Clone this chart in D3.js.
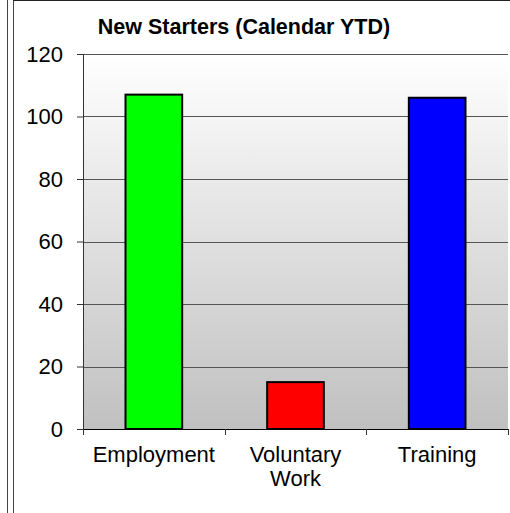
<!DOCTYPE html>
<html>
<head>
<meta charset="utf-8">
<script src="https://cdn.jsdelivr.net/npm/d3@7"></script>
<style>
  body { margin: 0; background: #fff; }
  text { font-family: "Liberation Sans", Arial, sans-serif; fill: #000; }
</style>
</head>
<body>
<div id="chart"></div>
<script>
// chart data
var categories = ["Employment", "Voluntary Work", "Training"];
var categoryLines = [["Employment"], ["Voluntary", "Work"], ["Training"]];
var values = [107, 15, 106];
var barColors = ["#00ff00", "#ff0000", "#0000ff"];
var yTicks = [0, 20, 40, 60, 80, 100, 120];
var chartTitle = "New Starters (Calendar YTD)";

var svgWidth = 510;
var svgHeight = 513;

var chartMargin = {
    top: 54,
    right: 2,
    left: 83,
    bottom: 84};

var chartWidth = svgWidth - chartMargin.left - chartMargin.right;
var chartHeight = svgHeight - chartMargin.top - chartMargin.bottom;

var svg = d3.select("#chart")
    .append("svg")
    .attr("width", svgWidth)
    .attr("height", svgHeight);

// outer frame lines
svg.append("line").attr("x1", 7.5).attr("x2", 7.5).attr("y1", 0).attr("y2", svgHeight)
    .attr("stroke", "#444").attr("stroke-width", 1);
svg.append("line").attr("x1", 13.5).attr("x2", 13.5).attr("y1", 0).attr("y2", svgHeight)
    .attr("stroke", "#444").attr("stroke-width", 1);
svg.append("line").attr("x1", 13).attr("x2", svgWidth).attr("y1", 0.5).attr("y2", 0.5)
    .attr("stroke", "#222").attr("stroke-width", 1);

var defs = svg.append("defs");
var grad = defs.append("linearGradient")
    .attr("id", "bg")
    .attr("x1", 0).attr("y1", 0).attr("x2", 0).attr("y2", 1);
grad.append("stop").attr("offset", "0%").attr("stop-color", "#ffffff");
grad.append("stop").attr("offset", "100%").attr("stop-color", "#c0c0c0");

var chartGroup = svg.append("g")
    .attr("transform", `translate(${chartMargin.left}, ${chartMargin.top})`);

var xScale = d3.scaleBand()
    .domain(categories)
    .range([0, chartWidth])
    .paddingInner(0.6)
    .paddingOuter(0.3);

var xBoundary = d3.scaleLinear()
    .domain([0, categories.length])
    .range([0, chartWidth]);

var yScale = d3.scaleLinear()
    .domain([0, 120])
    .range([chartHeight, 0]);

// plot background
chartGroup.append("rect")
    .attr("x", 0)
    .attr("y", 0)
    .attr("width", chartWidth)
    .attr("height", chartHeight)
    .attr("fill", "url(#bg)");

// gridlines
chartGroup.selectAll(".grid")
    .data(yTicks.filter(d => d > 0))
    .enter()
    .append("line")
    .attr("class", "grid")
    .attr("x1", 0)
    .attr("x2", chartWidth)
    .attr("y1", d => Math.round(yScale(d)) + 0.5)
    .attr("y2", d => Math.round(yScale(d)) + 0.5)
    .attr("stroke", "#555")
    .attr("stroke-width", 1);

// bars
chartGroup.selectAll(".bar")
    .data(values)
    .enter()
    .append("rect")
    .attr("class", "bar")
    .attr("x", (d, i) => xScale(categories[i]))
    .attr("y", d => yScale(d))
    .attr("width", xScale.bandwidth())
    .attr("height", d => chartHeight - yScale(d))
    .attr("fill", (d, i) => barColors[i])
    .attr("stroke", "#000")
    .attr("stroke-width", 2);

// y axis
var leftAxis = d3.axisLeft(yScale)
    .tickValues(yTicks)
    .tickSize(6)
    .tickPadding(14);

var yAxis = chartGroup.append("g")
    .attr("class", "y-axis")
    .call(leftAxis);
yAxis.select(".domain").attr("stroke", "#333");
yAxis.selectAll(".tick line").attr("stroke", "#333");
yAxis.selectAll("text")
    .style("font-size", "22px")
    .style("font-family", "Liberation Sans, Arial, sans-serif")
    .attr("fill", "#000");

// x axis line and boundary ticks
var xAxis = chartGroup.append("g")
    .attr("class", "x-axis")
    .attr("transform", `translate(0, ${chartHeight})`);
xAxis.append("line")
    .attr("x1", 0).attr("x2", chartWidth)
    .attr("y1", 0.5).attr("y2", 0.5)
    .attr("stroke", "#000");
xAxis.selectAll(".xtick")
    .data(d3.range(categories.length + 1))
    .enter()
    .append("line")
    .attr("class", "xtick")
    .attr("x1", d => Math.round(xBoundary(d)) + 0.5)
    .attr("x2", d => Math.round(xBoundary(d)) + 0.5)
    .attr("y1", 0)
    .attr("y2", 6)
    .attr("stroke", "#333");

// category labels
var labelGroups = xAxis.selectAll(".xlabel")
    .data(categoryLines)
    .enter()
    .append("text")
    .attr("class", "xlabel")
    .attr("text-anchor", "middle")
    .style("font-size", "22px")
    .attr("transform", (d, i) => `translate(${xScale(categories[i]) + xScale.bandwidth() / 2}, 33)`);
labelGroups.selectAll("tspan")
    .data(d => d)
    .enter()
    .append("tspan")
    .attr("x", 0)
    .attr("dy", (d, i) => i === 0 ? 0 : 24)
    .text(d => d);

// title
svg.append("text")
    .attr("x", 244)
    .attr("y", 34)
    .attr("text-anchor", "middle")
    .style("font-size", "21.5px")
    .style("font-weight", "bold")
    .text(chartTitle);
</script>
</body>
</html>
